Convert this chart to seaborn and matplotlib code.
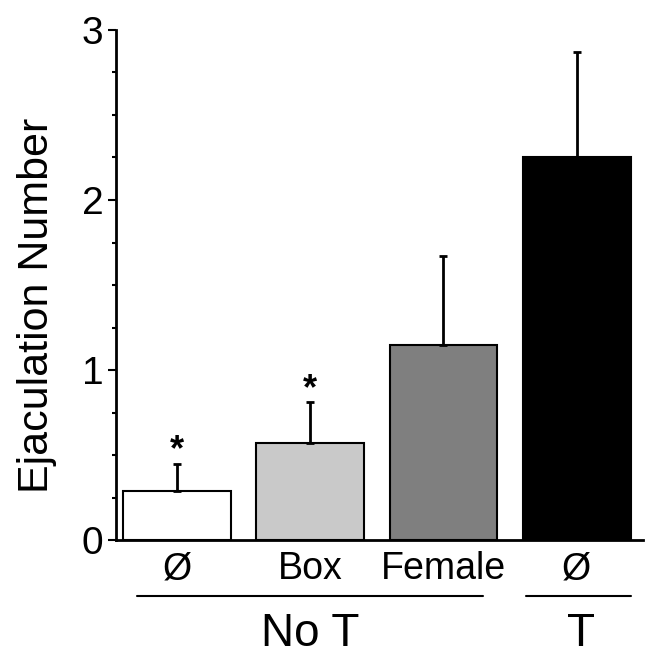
import numpy as np
import matplotlib
matplotlib.use('Agg')
import matplotlib.pyplot as plt
import seaborn as sns

# data
groups = ['NoT_none', 'NoT_box', 'NoT_female', 'T_none']
tick_labels = ['Ø', 'Box', 'Female', 'Ø']
means = [0.29, 0.57, 1.15, 2.25]
sems = [0.16, 0.24, 0.52, 0.62]
signif = ['*', '*', '', '']
bar_colors = ['#ffffff', '#c9c9c9', '#7f7f7f', '#000000']

sns.set_style('ticks')
plt.rcParams['font.family'] = ['Liberation Sans', 'DejaVu Sans']
plt.rcParams.update({
    'text.color': 'black',
    'axes.labelcolor': 'black',
    'axes.edgecolor': 'black',
    'xtick.color': 'black',
    'ytick.color': 'black',
})

fig = plt.figure(figsize=(6.51, 6.68), dpi=100)
ax = fig.add_axes([0.178, 0.1916, 0.81, 0.7635])

sns.barplot(x=groups, y=means, hue=groups, palette=bar_colors, legend=False,
            edgecolor='black', linewidth=1.5, width=0.81, ax=ax, zorder=2)

pos = np.arange(len(groups))
ax.errorbar(pos, means, yerr=[np.zeros(len(means)), sems], fmt='none',
            ecolor='black', elinewidth=2, capsize=3, capthick=2, zorder=3)

for x, m, s, star in zip(pos, means, sems, signif):
    if star:
        ax.text(x, m + s - 0.03, star, ha='center', va='bottom',
                fontsize=26, fontweight='bold')

ax.set_xlim(-0.46, 3.5)
ax.set_ylim(0, 3)
ax.set_yticks([0, 1, 2, 3])
ax.set_yticks(np.arange(0, 3.01, 0.25), minor=True)
ax.set_xticks(pos)
ax.set_xticklabels(tick_labels, fontsize=27)
ax.tick_params(axis='y', which='major', length=6, width=1.5, labelsize=28, pad=3)
ax.tick_params(axis='y', which='minor', length=3, width=1.5)
ax.tick_params(axis='x', length=0, pad=8)
ax.set_ylabel('Ejaculation Number', fontsize=31)
ax.yaxis.set_label_coords(-0.112, 0.46)
ax.set_xlabel('')

for side in ['top', 'right']:
    ax.spines[side].set_visible(False)
for side in ['left', 'bottom']:
    ax.spines[side].set_linewidth(2)

# group brackets under the axis
ax.plot([-0.30, 2.30], [-0.33, -0.33], color='black', lw=1.5, clip_on=False)
ax.plot([2.62, 3.41], [-0.33, -0.33], color='black', lw=1.5, clip_on=False)
ax.text(1.0, -0.55, 'No T', ha='center', va='center', fontsize=33)
ax.text(3.03, -0.55, 'T', ha='center', va='center', fontsize=33)

fig.savefig('out.png', dpi=100)
